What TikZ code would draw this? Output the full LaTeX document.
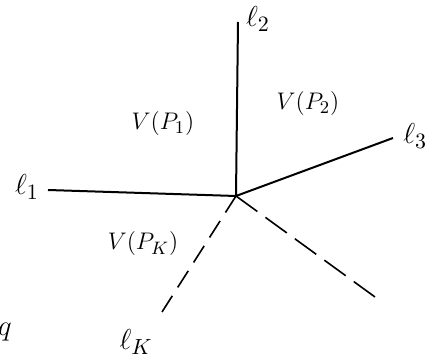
\documentclass[tikz,border=0pt]{standalone}
\usepackage{amsmath,amssymb}
\usepackage{tikz}
\usetikzlibrary{positioning}

\begin{document}
\begin{tikzpicture}[
  x=0.5pt, y=-0.5pt,
  ray/.style={line width=1pt},
  dray/.style={line width=0.8pt, dash pattern=on #1 off 5pt},
  label/.style={font=\fontsize{15}{17}\selectfont, inner sep=0pt},
  cell/.style={font=\fontsize{13}{15}\selectfont, inner sep=0pt}
]
  \useasboundingbox (0,0) rectangle (425,363);

  % Common vertex and ray ends
  \coordinate (o) at (236,196);
  \coordinate (e1) at (48,190);
  \coordinate (e2) at (238,22);
  \coordinate (e3) at (393,138);
  \coordinate (ek) at (162,312);
  \coordinate (ed) at (375,297);

  % Rays
  \draw[ray] (e1) -- (o);
  \draw[ray] (e2) -- (o);
  \draw[ray] (e3) -- (o);
  \draw[dray=9.8pt] (o) -- (ek);
  \draw[dray=13.2pt] (o) -- (ed);

  % Ray labels
  \node[label] (l1) at (27,187) {$\ell_1$};
  \node[label] (l2) at (258,19) {$\ell_2$};
  \node[label, anchor=west] (l3) at (403,136) {$\ell_3$};
  \node[label] (lk) at (136,342) {$\ell_K$};

  % Cells
  \node[cell] (v1) at (163,124) {$V(P_1)$};
  \node[cell] (v2) at (308,104) {$V(P_2)$};
  \node[cell] (vk) at (143,244) {$V(P_K)$};

  % Stray mark
  \node[label] (q) at (5,332) {$q$};
\end{tikzpicture}
\end{document}
